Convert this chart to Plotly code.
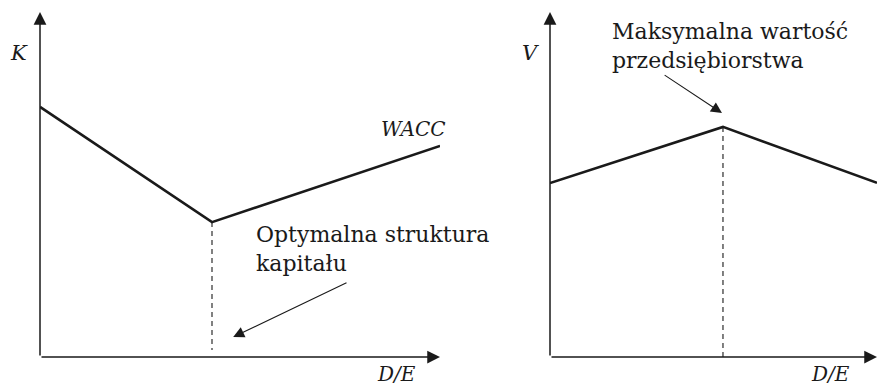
import plotly.graph_objects as go

de_left = [0.0, 4.3, 10.0]
wacc = [7.25, 3.91, 6.12]
de_right = [0.0, 5.29, 10.0]
firm_value = [5.04, 6.67, 5.05]

W, H = 879, 385
FONT = "DejaVu Serif"
INK = "#1a1a1a"

def px(x):
    return x / W

def py(y):
    return 1 - y / H

fig = go.Figure()

# Left panel: WACC
fig.add_trace(go.Scatter(x=de_left, y=wacc, mode="lines",
                         line=dict(color=INK, width=2.6), xaxis="x", yaxis="y",
                         hoverinfo="skip"))
i_min = wacc.index(min(wacc))
fig.add_trace(go.Scatter(x=[de_left[i_min], de_left[i_min]], y=[wacc[i_min], 0.2],
                         mode="lines", line=dict(color=INK, width=1.1, dash="5px,4px"),
                         xaxis="x", yaxis="y", hoverinfo="skip"))

# Right panel: firm value
fig.add_trace(go.Scatter(x=de_right, y=firm_value, mode="lines",
                         line=dict(color=INK, width=2.6), xaxis="x2", yaxis="y2",
                         hoverinfo="skip", cliponaxis=False))
i_max = firm_value.index(max(firm_value))
fig.add_trace(go.Scatter(x=[de_right[i_max], de_right[i_max]], y=[firm_value[i_max], 0.0],
                         mode="lines", line=dict(color=INK, width=1.1, dash="5px,4px"),
                         xaxis="x2", yaxis="y2", hoverinfo="skip"))

ax_common = dict(showgrid=False, zeroline=False, showticklabels=False, showline=False,
                 ticks="", fixedrange=True)
fig.update_layout(
    width=W, height=H, margin=dict(l=0, r=0, t=0, b=0),
    paper_bgcolor="white", plot_bgcolor="white", showlegend=False,
    xaxis=dict(domain=[px(40), px(440)], range=[0, 10], **ax_common),
    yaxis=dict(domain=[py(357), py(12)], range=[0, 10], **ax_common),
    xaxis2=dict(domain=[px(550), px(877)], range=[0, 10], anchor="y2", **ax_common),
    yaxis2=dict(domain=[py(357), py(12)], range=[0, 10], anchor="x2", **ax_common),
)

anns = []
# axis arrows
for xr, yr in (("x", "y"), ("x2", "y2")):
    anns.append(dict(x=10, y=0, ax=0, ay=0, xref=xr, yref=yr, axref=xr, ayref=yr,
                     text="", showarrow=True, arrowhead=2, arrowsize=1.7, arrowwidth=1.5,
                     arrowcolor=INK, standoff=0, startstandoff=0))
    anns.append(dict(x=0, y=10, ax=0, ay=0, xref=xr, yref=yr, axref=xr, ayref=yr,
                     text="", showarrow=True, arrowhead=2, arrowsize=1.7, arrowwidth=1.5,
                     arrowcolor=INK, standoff=0, startstandoff=0))

# pointer arrows
anns.append(dict(x=4.83, y=0.58, ax=7.7, ay=2.17, xref="x", yref="y", axref="x", ayref="y",
                 text="", showarrow=True, arrowhead=2, arrowsize=2.0, arrowwidth=1.1,
                 arrowcolor=INK, standoff=0))
anns.append(dict(x=5.26, y=7.07, ax=3.46, ay=8.2, xref="x2", yref="y2", axref="x2", ayref="y2",
                 text="", showarrow=True, arrowhead=2, arrowsize=2.0, arrowwidth=1.1,
                 arrowcolor=INK, standoff=0))

def label(text, x, y, xanchor="center", yanchor="middle", italic=False, size=22):
    return dict(text=text, x=px(x), y=py(y), xref="paper", yref="paper",
                xanchor=xanchor, yanchor=yanchor, showarrow=False, align="left",
                font=dict(family=FONT, size=size, color=INK,
                          style="italic" if italic else "normal"))

anns.append(label("K", 19, 53, italic=True, size=21))
anns.append(label("V", 530, 53, italic=True, size=21))
anns.append(label("WACC", 413, 129, italic=True, size=20))
anns.append(label("D/E", 396, 374, italic=True, size=20))
anns.append(label("D/E", 830, 374, italic=True, size=20))
anns.append(label("Optymalna struktura<br>kapitału", 254, 220, xanchor="left", yanchor="top"))
anns.append(label("Maksymalna wartość<br>przedsiębiorstwa", 610, 17, xanchor="left", yanchor="top"))

fig.update_layout(annotations=anns)
fig.write_html("out.html", config={"displayModeBar": False},
               post_script="document.body.style.margin='0';document.body.style.padding='0';")
